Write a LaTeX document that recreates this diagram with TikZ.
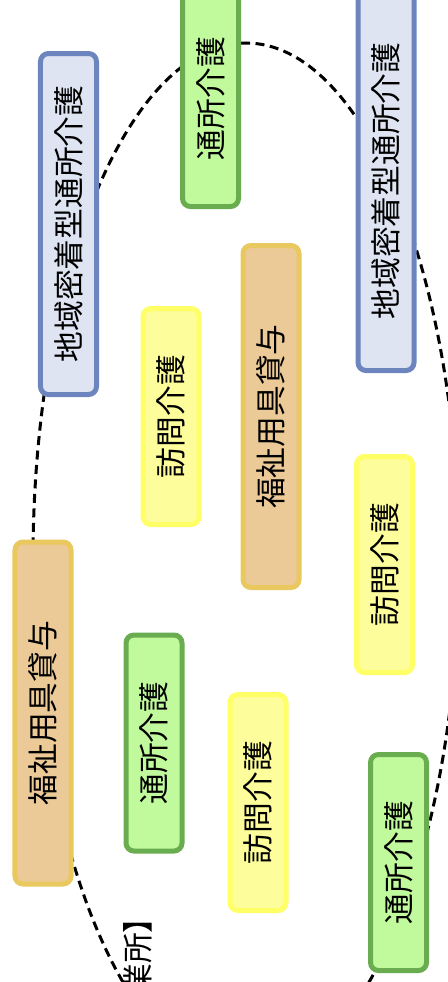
\documentclass[tikz,border=0pt]{standalone}
\usepackage{fontspec}
\usepackage{xcolor}
\usepackage{tikz}
\usetikzlibrary{positioning}
\newfontfamily\jpfont{Noto Sans CJK JP}
\definecolor{kblue}{RGB}{222,228,241}
\definecolor{kblueline}{RGB}{108,133,190}
\definecolor{kgreen}{RGB}{192,250,156}
\definecolor{kgreenline}{RGB}{106,172,80}
\definecolor{kyellow}{RGB}{253,253,155}
\definecolor{kyellowline}{RGB}{255,255,102}
\definecolor{korange}{RGB}{236,202,152}
\definecolor{korangeline}{RGB}{234,200,96}

\begin{document}
\begin{tikzpicture}[x=0.2mm,y=-0.2mm,
  svc/.style={rotate=90, rounded corners=1.6mm, line width=1mm, inner sep=0pt,
    minimum height=11.2mm, minimum width=43.2mm, font=\jpfont\fontsize{17.5}{20}\selectfont},
  tsusho/.style={svc, draw=kgreenline, fill=kgreen},
  homon/.style={svc, draw=kyellowline, fill=kyellow},
  fukushi/.style={svc, draw=korangeline, fill=korange, minimum width=68.4mm},
  chiiki/.style={svc, draw=kblueline, fill=kblue, minimum width=68.2mm}]
\useasboundingbox (0,0) rectangle (448,982);
% Area
\draw[line width=0.6mm, dash pattern=on 1.8mm off 1.1mm] (246,560) ellipse [x radius=42.6mm, y radius=103.4mm];
% Services
\node[chiiki] (chiikiL) at (68.5,224) {地域密着型通所介護};
\node[tsusho] (tsushoT) at (210.5,98.5) {通所介護};
\node[chiiki, minimum width=75.8mm] (chiikiR) at (386,181) {地域密着型通所介護};
\node[homon] (homonL) at (171,416.5) {訪問介護};
\node[fukushi] (fukushiC) at (271,416.5) {福祉用具貸与};
\node[homon] (homonR) at (384.5,564.5) {訪問介護};
\node[fukushi] (fukushiL) at (43,713) {福祉用具貸与};
\node[tsusho] (tsushoM) at (154,743) {通所介護};
\node[homon] (homonB) at (258,802.5) {訪問介護};
\node[tsusho] (tsushoB) at (398.5,862.5) {通所介護};
% Label
\node[rotate=90, anchor=east, inner sep=0pt, font=\jpfont\fontsize{17.5}{20}\selectfont] (area) at (138,902) {【事業所】};
\end{tikzpicture}
\end{document}
